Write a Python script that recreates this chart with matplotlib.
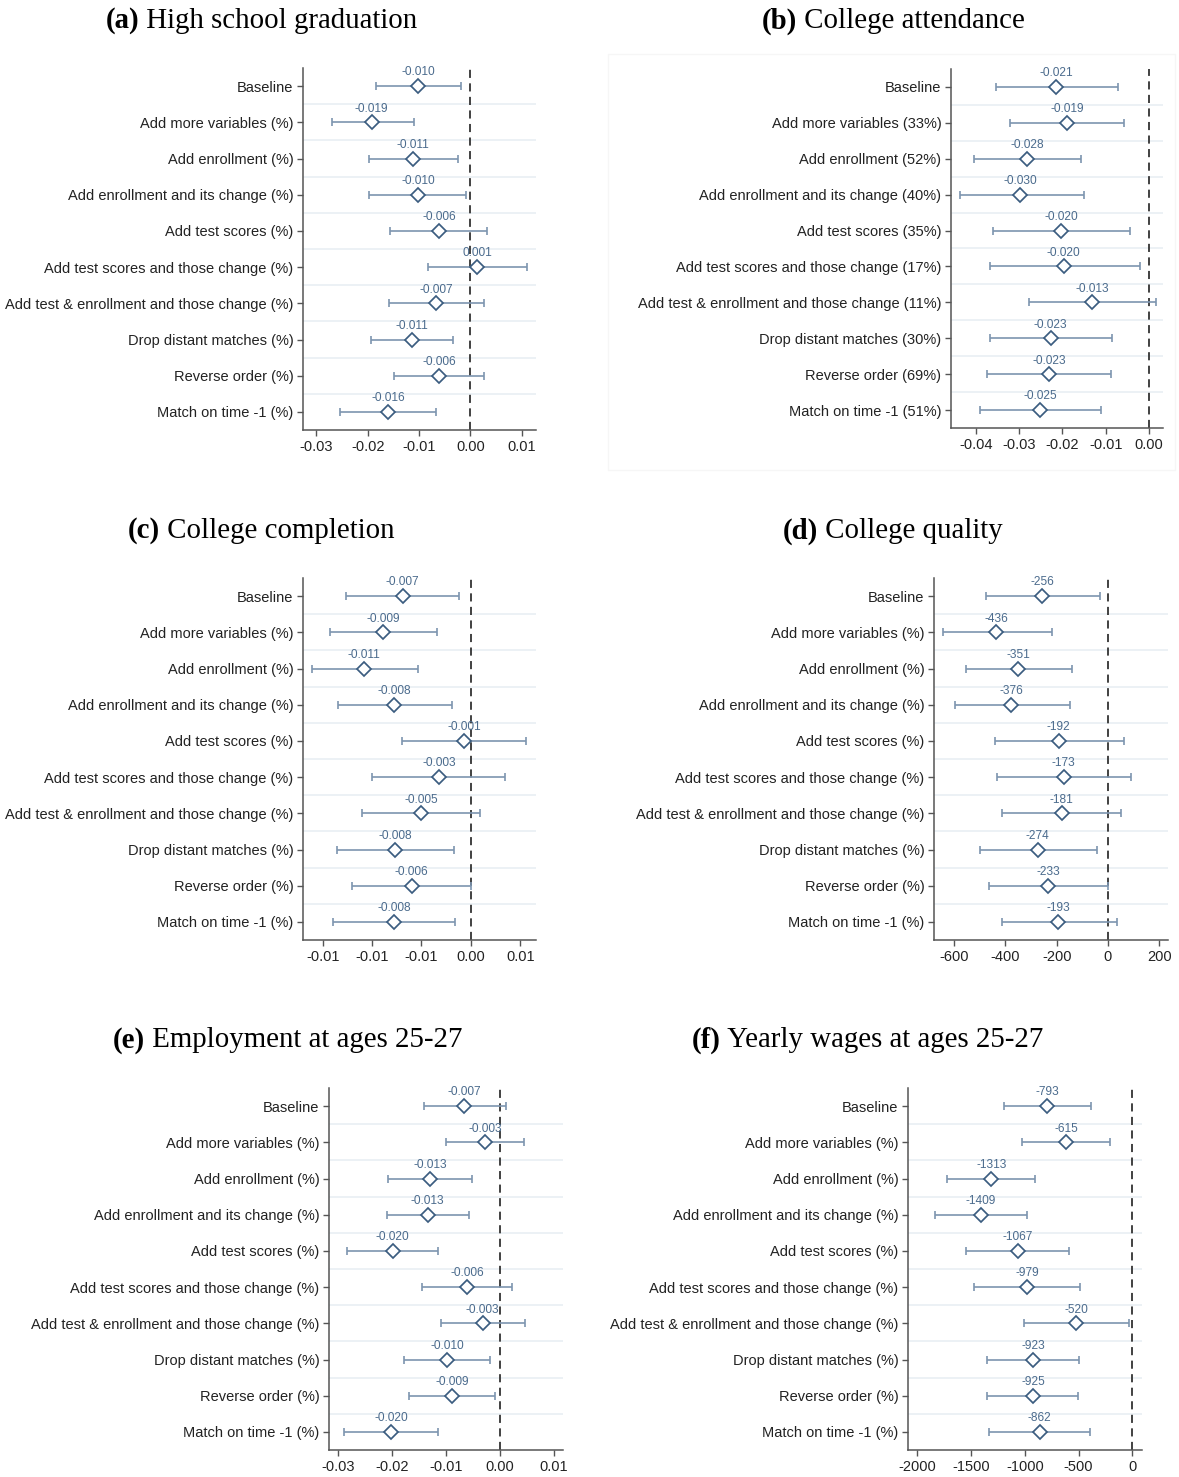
import matplotlib
matplotlib.use('Agg')
import matplotlib.pyplot as plt
from matplotlib.patches import Rectangle

plt.rcParams.update({
    'font.family': ['Liberation Sans', 'DejaVu Sans'],
    'axes.unicode_minus': False,
    'font.size': 10,
})

W, H = 1179, 1477

rows_pct = ["Baseline", "Add more variables (%)", "Add enrollment (%)",
            "Add enrollment and its change (%)", "Add test scores (%)",
            "Add test scores and those change (%)",
            "Add test & enrollment and those change (%)",
            "Drop distant matches (%)", "Reverse order (%)", "Match on time -1 (%)"]
rows_b = ["Baseline", "Add more variables (33%)", "Add enrollment (52%)",
          "Add enrollment and its change (40%)", "Add test scores (35%)",
          "Add test scores and those change (17%)",
          "Add test & enrollment and those change (11%)",
          "Drop distant matches (30%)", "Reverse order (69%)", "Match on time -1 (51%)"]

# (a) High school graduation
a_est = [-0.0102, -0.0192, -0.0111, -0.0102, -0.0061, 0.0014, -0.0067, -0.0114, -0.0061, -0.0160]
a_lo = [-0.0184, -0.0270, -0.0197, -0.0197, -0.0156, -0.0083, -0.0158, -0.0193, -0.0149, -0.0254]
a_hi = [-0.0019, -0.0110, -0.0024, -0.0008, 0.0033, 0.0110, 0.0027, -0.0034, 0.0027, -0.0066]
a_ticks = [-0.03, -0.02, -0.01, 0.0, 0.01]
a_ticklabels = ['-0.03', '-0.02', '-0.01', '0.00', '0.01']

# (b) College attendance
b_est = [-0.0214, -0.0189, -0.0282, -0.0297, -0.0203, -0.0197, -0.0132, -0.0227, -0.0231, -0.0252]
b_lo = [-0.0354, -0.0322, -0.0405, -0.0437, -0.0359, -0.0368, -0.0278, -0.0368, -0.0374, -0.0391]
b_hi = [-0.0072, -0.0057, -0.0158, -0.0151, -0.0045, -0.0021, 0.0016, -0.0085, -0.0088, -0.0110]
b_ticks = [-0.04, -0.03, -0.02, -0.01, 0.0]
b_ticklabels = ['-0.04', '-0.03', '-0.02', '-0.01', '0.00']

# (c) College completion
c_est = [-0.0069, -0.0089, -0.0108, -0.0078, -0.0007, -0.0032, -0.0050, -0.0077, -0.0060, -0.0078]
c_lo = [-0.0126, -0.0143, -0.0161, -0.0135, -0.0070, -0.0100, -0.0110, -0.0136, -0.0120, -0.0140]
c_hi = [-0.0012, -0.0034, -0.0054, -0.0019, 0.0056, 0.0035, 0.0009, -0.0017, 0.0000, -0.0016]
c_ticks = [-0.015, -0.01, -0.005, 0.0, 0.005]
c_ticklabels = ['-0.01', '-0.01', '-0.01', '0.00', '0.01']

# (d) College quality
d_est = [-256, -436, -351, -376, -192, -173, -181, -274, -233, -193]
d_lo = [-474, -643, -552, -595, -440, -432, -412, -500, -465, -414]
d_hi = [-31, -217, -139, -147, 62, 88, 52, -42, 1, 34]
d_ticks = [-600, -400, -200, 0, 200]
d_ticklabels = ['-600', '-400', '-200', '0', '200']

# (e) Employment at ages 25-27
e_est = [-0.0066, -0.0028, -0.0129, -0.0134, -0.0199, -0.0061, -0.0032, -0.0098, -0.0088, -0.0202]
e_lo = [-0.0141, -0.0100, -0.0207, -0.0209, -0.0284, -0.0145, -0.0109, -0.0178, -0.0168, -0.0290]
e_hi = [0.0011, 0.0044, -0.0051, -0.0057, -0.0114, 0.0022, 0.0046, -0.0019, -0.0009, -0.0114]
e_ticks = [-0.03, -0.02, -0.01, 0.0, 0.01]
e_ticklabels = ['-0.03', '-0.02', '-0.01', '0.00', '0.01']

# (f) Yearly wages at ages 25-27
f_est = [-793, -615, -1313, -1409, -1067, -979, -520, -923, -925, -862]
f_lo = [-1193, -1022, -1724, -1839, -1543, -1472, -1009, -1348, -1348, -1335]
f_hi = [-385, -208, -904, -984, -587, -484, -31, -500, -509, -391]
f_ticks = [-2000, -1500, -1000, -500, 0]
f_ticklabels = ['-2000', '-1500', '-1000', '-500', '0']

BAR = '#7d95af'
EDGE = '#3b5d80'
LAB = '#4b6b8d'
SPINE = '#555555'


def px_rect(l, r, t, b):
    return [l / W, 1 - b / H, (r - l) / W, (b - t) / H]


def coef_panel(ax, rows, est, lo, hi, ticks, ticklabels, xlim, fmt):
    n = len(rows)
    ypos = list(range(1, n + 1))
    for k in range(1, n):
        ax.axhline(k + 0.5, color='#e9eff3', lw=1.2, zorder=0)
    ax.axvline(0, color='#333333', lw=1.3, ls=(0, (4.5, 3)), zorder=1)
    xerr = [[e - l for e, l in zip(est, lo)], [h - e for e, h in zip(est, hi)]]
    ax.errorbar(est, ypos, xerr=xerr, fmt='none', ecolor=BAR, elinewidth=1.2,
                capsize=3, capthick=1.2, zorder=2)
    ax.plot(est, ypos, ls='none', marker='D', ms=6.8, mfc='white', mec=EDGE,
            mew=1.25, zorder=3)
    for v, y in zip(est, ypos):
        ax.annotate(fmt.format(v), (v, y), xytext=(0, 5.5), textcoords='offset points',
                    ha='center', va='bottom', fontsize=8.6, color=LAB, zorder=4)
    ax.set_yticks(ypos)
    ax.set_yticklabels(rows, fontsize=10.5, color='#222222')
    ax.set_ylim(n + 0.5, 0.5)
    ax.set_xticks(ticks)
    ax.set_xticklabels(ticklabels, fontsize=10.5, color='#222222')
    ax.set_xlim(*xlim)
    for s in ['top', 'right']:
        ax.spines[s].set_visible(False)
    for s in ['left', 'bottom']:
        ax.spines[s].set_color(SPINE)
        ax.spines[s].set_linewidth(1.1)
    ax.tick_params(axis='both', direction='out', length=4, width=1, color=SPINE, pad=3)


fig = plt.figure(figsize=(W / 100, H / 100), dpi=100)

# faint frame around panel (b)
fig.patches.append(Rectangle((608 / W, 1 - 470 / H), (1175 - 608) / W, (470 - 54) / H,
                             transform=fig.transFigure, fill=False,
                             edgecolor='#f6f6f6', lw=1))

panels = [
    (px_rect(303, 536, 68, 430), rows_pct, a_est, a_lo, a_hi, a_ticks, a_ticklabels, (-0.0326, 0.0128), '{:.3f}'),
    (px_rect(951, 1163, 69, 428), rows_b, b_est, b_lo, b_hi, b_ticks, b_ticklabels, (-0.0457, 0.0032), '{:.3f}'),
    (px_rect(303, 536, 578, 940), rows_pct, c_est, c_lo, c_hi, c_ticks, c_ticklabels, (-0.0170, 0.0066), '{:.3f}'),
    (px_rect(934, 1168, 578, 940), rows_pct, d_est, d_lo, d_hi, d_ticks, d_ticklabels, (-678, 234), '{:.0f}'),
    (px_rect(329, 563, 1088, 1450), rows_pct, e_est, e_lo, e_hi, e_ticks, e_ticklabels, (-0.0317, 0.0117), '{:.3f}'),
    (px_rect(908, 1142, 1088, 1450), rows_pct, f_est, f_lo, f_hi, f_ticks, f_ticklabels, (-2087, 90), '{:.0f}'),
]
for rect, rows, est, lo, hi, ticks, tl, xlim, fmt in panels:
    ax = fig.add_axes(rect)
    coef_panel(ax, rows, est, lo, hi, ticks, tl, xlim, fmt)

titles = [
    (261.5, 21, '(a)', 'High school graduation'),
    (893.5, 21, '(b)', 'College attendance'),
    (261.5, 531, '(c)', 'College completion'),
    (893.0, 531, '(d)', 'College quality'),
    (287.5, 1040, '(e)', 'Employment at ages 25-27'),
    (867.5, 1040, '(f)', 'Yearly wages at ages 25-27'),
]
renderer = fig.canvas.get_renderer()
for cx, cy, tag, text in titles:
    t1 = fig.text(0, 1 - cy / H, tag, family='Liberation Serif', weight='bold',
                  fontsize=20.8, va='center', ha='left')
    t2 = fig.text(0, 1 - cy / H, ' ' + text, family='Liberation Serif',
                  fontsize=20.8, va='center', ha='left')
    w1 = t1.get_window_extent(renderer).width
    w2 = t2.get_window_extent(renderer).width
    x0 = cx - (w1 + w2) / 2
    t1.set_x(x0 / W)
    t2.set_x((x0 + w1) / W)

fig.savefig('out.png', dpi=100, facecolor='white')
